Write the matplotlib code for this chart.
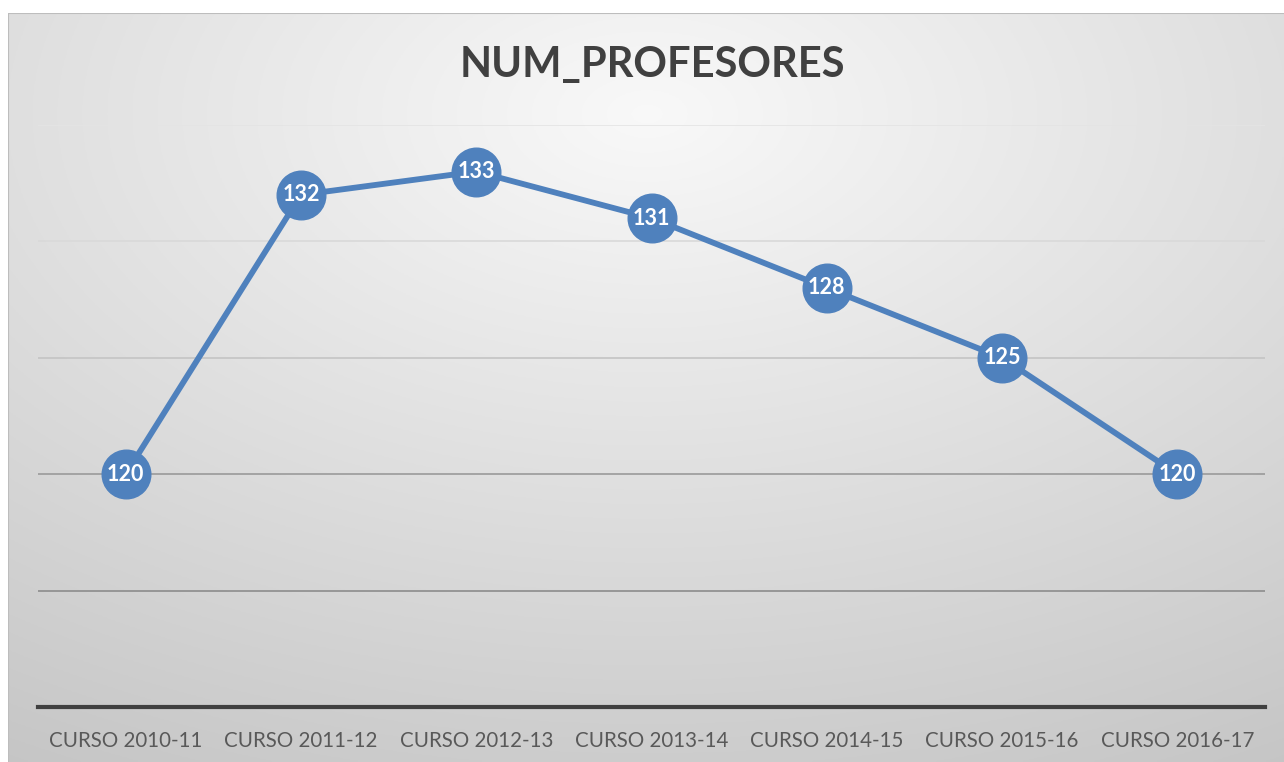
import numpy as np
import matplotlib
matplotlib.use("Agg")
import matplotlib.pyplot as plt

categories = ["CURSO 2010-11", "CURSO 2011-12", "CURSO 2012-13", "CURSO 2013-14",
              "CURSO 2014-15", "CURSO 2015-16", "CURSO 2016-17"]
values = [120, 132, 133, 131, 128, 125, 120]
title = "NUM_PROFESORES"

W, H = 1284, 762
fig = plt.figure(figsize=(W / 100, H / 100), dpi=100)
fig.patch.set_facecolor("white")

# background panel with radial gradient
bg = fig.add_axes([8 / W, 0, (W - 8) / W, (H - 13) / H])
bg.set_axis_off()
yy, xx = np.mgrid[0:300, 0:500]
cx, cy = 250, 40
r = np.sqrt(((xx - cx) / 500) ** 2 + ((yy - cy) / 300) ** 2)
r = r / r.max()
val = 0.975 - 0.20 * r ** 1.0
img = np.dstack([val, val, val])
bg.imshow(img, aspect="auto", extent=[0, 1, 0, 1], origin="upper")
bg.set_xlim(0, 1)
bg.set_ylim(0, 1)
bg.plot([0, 0], [0, 1], color="#bdbdbd", lw=1.5)
bg.plot([0, 1], [1, 1], color="#bdbdbd", lw=1.5)

ax = fig.add_axes([38 / W, 1 - 707 / H, (1265 - 38) / W, (707 - 125) / H])
ax.patch.set_alpha(0)
x = np.arange(len(categories))
ax.plot(x, values, color="#4f81bd", lw=4.2, marker="o", markersize=35,
        markerfacecolor="#4f81bd", markeredgecolor="#4f81bd", zorder=3, clip_on=False)
for xi, v in zip(x, values):
    ax.text(xi, v, str(v), ha="center", va="center", color="white",
            fontsize=15.5, fontweight="bold", family="Lato", zorder=4)

ax.set_xlim(-0.5, len(categories) - 0.5)
ax.set_ylim(110, 135)
ax.set_yticks([115, 120, 125, 130, 135])
ax.yaxis.grid(True)
gcols = ["#8c8c8c", "#9a9a9a", "#c4c4c4", "#d9d9d9", "#e4e4e4"]
for gl, c in zip(ax.get_ygridlines(), gcols):
    gl.set_color(c)
    gl.set_linewidth(1.2)
ax.tick_params(axis="y", left=False, labelleft=False)
ax.set_xticks(x)
ax.set_xticklabels(categories, fontsize=14.8, color="#595959", family="Lato")
ax.tick_params(axis="x", length=0, pad=17)
for s in ["top", "right", "left"]:
    ax.spines[s].set_visible(False)
ax.spines["bottom"].set_color("#404040")
ax.spines["bottom"].set_linewidth(3)

fig.text(652 / W, 1 - 65 / H, title, ha="center", va="center", fontsize=30,
         fontweight="bold", color="#404040", family="Lato")

fig.savefig("out.png", dpi=100)
